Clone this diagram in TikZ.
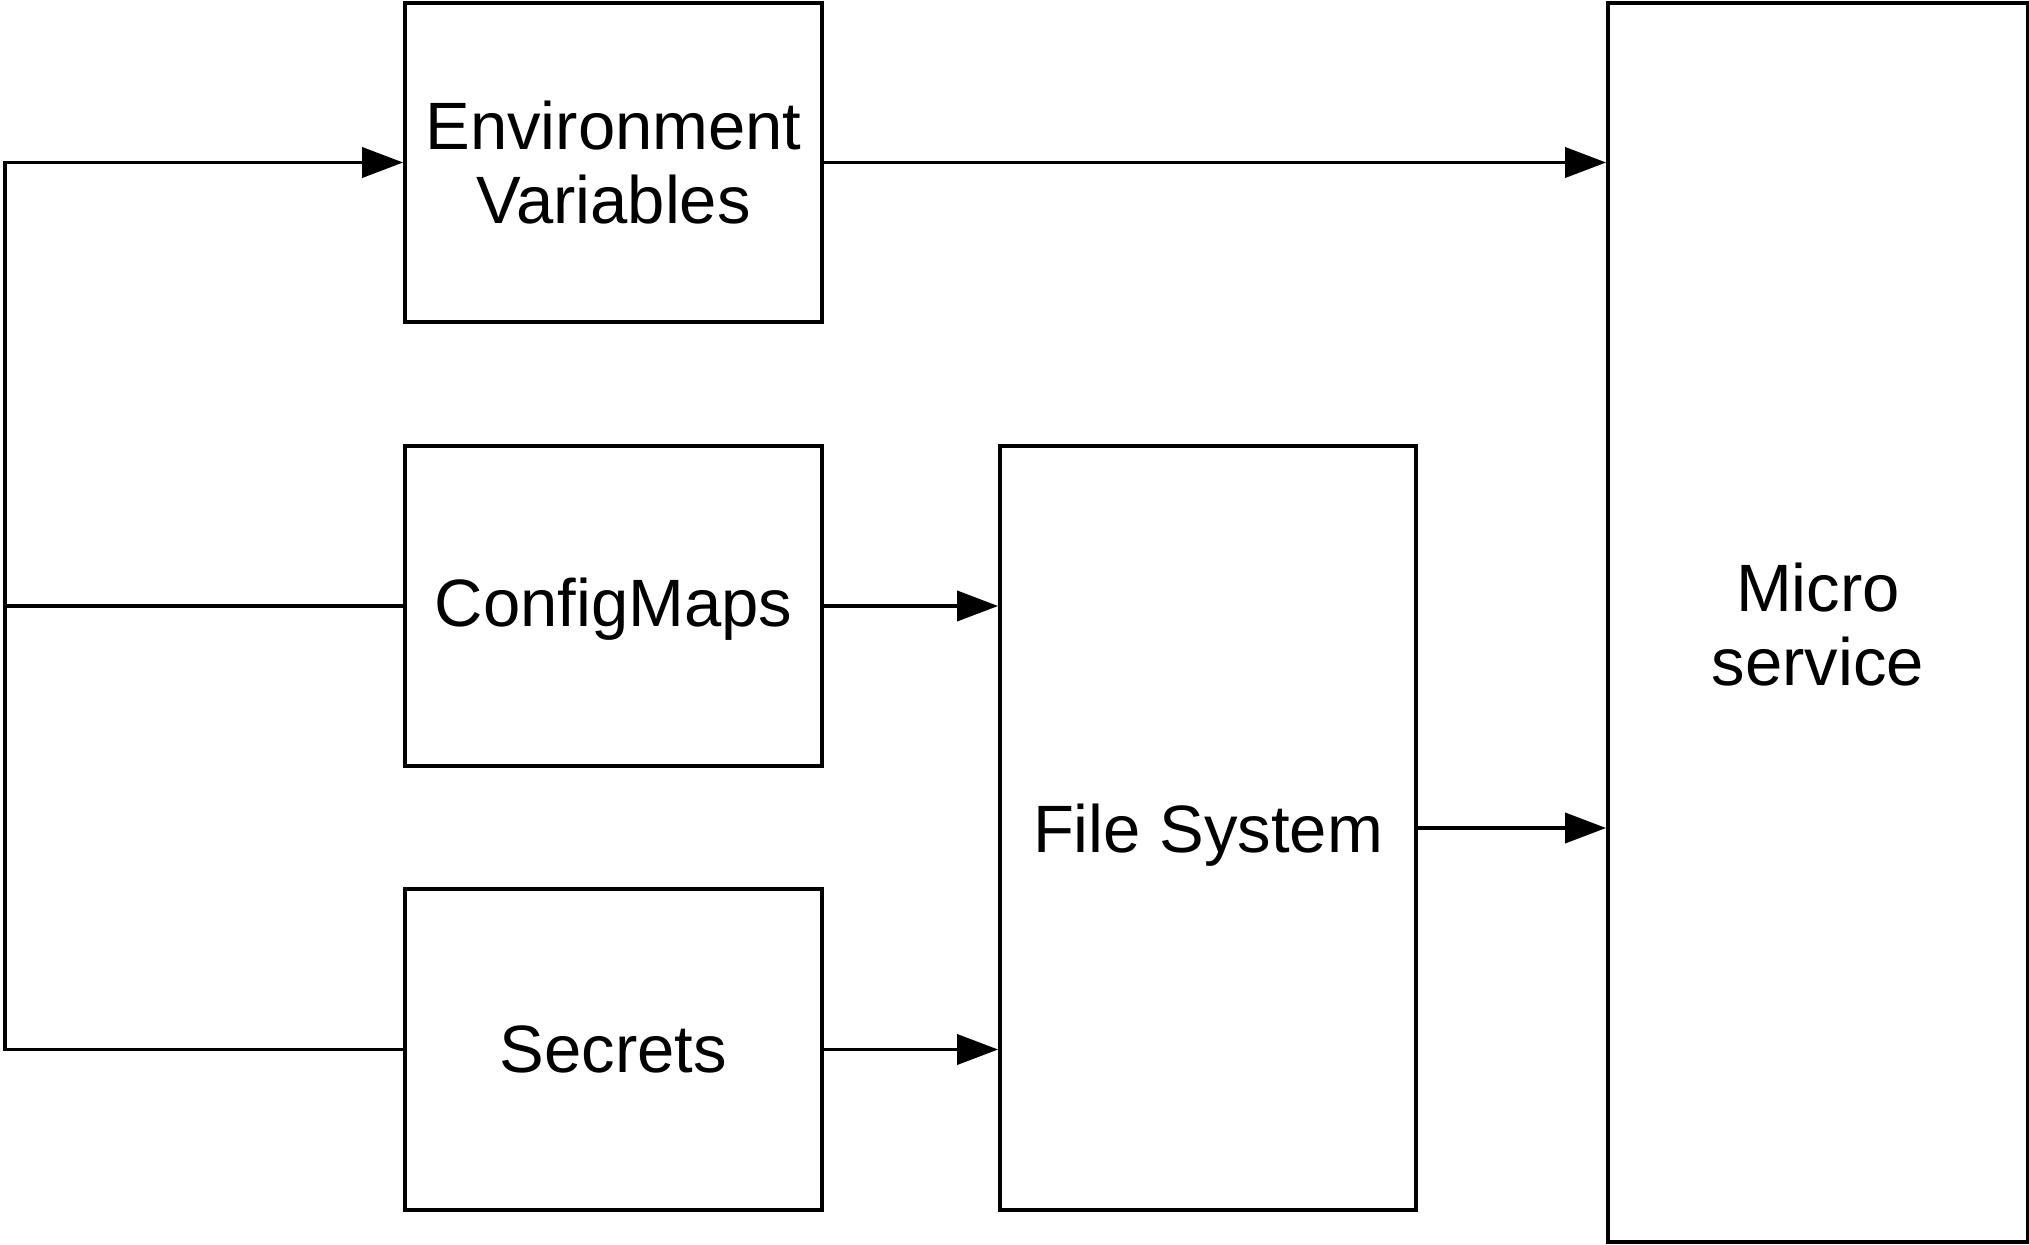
\documentclass[tikz,border=0pt]{standalone}
\usepackage{fontspec}
\setmainfont{Liberation Sans}
\usetikzlibrary{arrows.meta}
\begin{document}
\begin{tikzpicture}[x=0.5pt,y=-0.5pt,
  box/.style={draw,line width=1.9pt,inner sep=0pt,align=center,
    font=\fontsize{33.5}{37}\selectfont},
  conn/.style={line width=1.9pt},
  arr/.style={conn,-{Triangle[length=20.5pt,width=15pt]}}]
\useasboundingbox (0,0) rectangle (2029,1245);
\node[box,minimum width=208.5pt,minimum height=159.5pt] (env) at (613.5,162.5) {Environment\\Variables};
\node[box,minimum width=208.5pt,minimum height=160pt,text depth=4pt] (cm) at (613.5,606) {ConfigMaps};
\node[box,minimum width=208.5pt,minimum height=160.5pt] (sec) at (613.5,1049.5) {Secrets};
\node[box,minimum width=208pt,minimum height=382pt,text depth=0pt] (fs) at (1208,828) {File System};
\node[box,minimum width=210pt,minimum height=619.5pt] (ms) at (1818,622.5) {};
\node[font=\fontsize{33.5}{37}\selectfont,align=center] (mstext) at (1818,625) {Micro\\service};
\coordinate (bus) at (5,604);
\draw[arr] (env.east) -- (env.east -| ms.west);
\draw[arr] (fs.east) -- (fs.east -| ms.west);
\draw[arr] (cm.east) -- (cm.east -| fs.west);
\draw[arr] (sec.east) -- (sec.east -| fs.west);
\draw[conn] (cm.west) -- (cm.west -| bus);
\draw[arr] (sec.west) -- (sec.west -| bus) |- (env.west);
\end{tikzpicture}
\end{document}
